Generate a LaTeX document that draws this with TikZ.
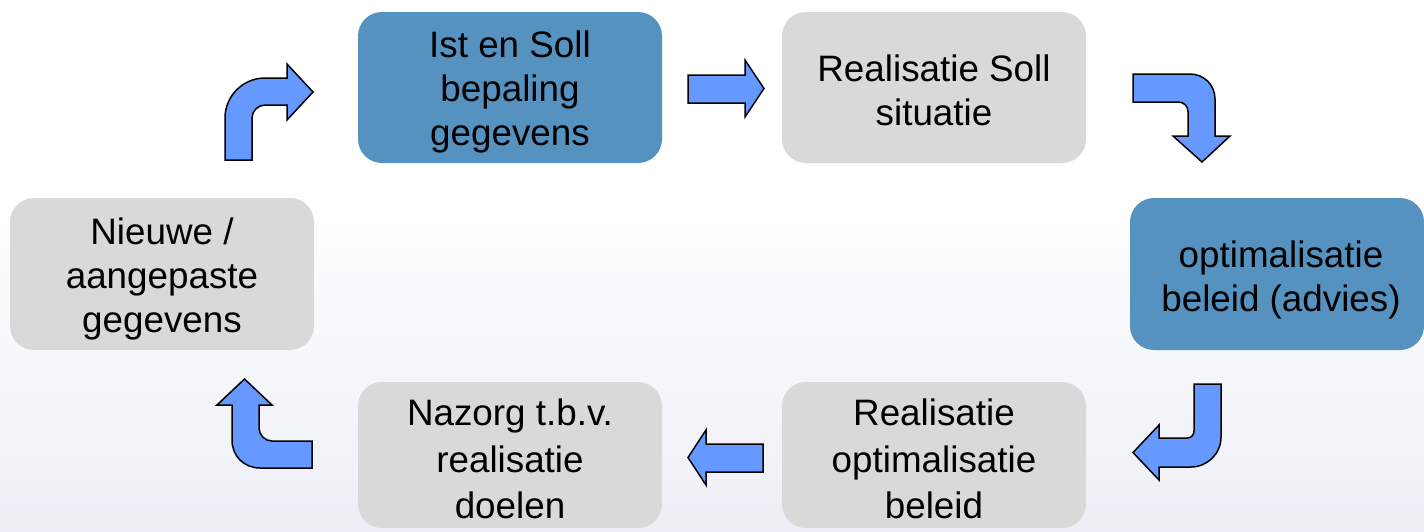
\documentclass[tikz,border=0pt]{standalone}
\usepackage{fontspec}
\setmainfont{Liberation Sans}
\definecolor{boxblue}{HTML}{5692C0}
\definecolor{boxgray}{HTML}{D9D9D9}
\definecolor{arrblue}{HTML}{6699FF}
\definecolor{bgbot}{HTML}{EDEFF6}
\tikzset{
  card/.style={rounded corners=24pt, minimum width=304pt, minimum height=151pt, inner sep=0pt},
  bluecard/.style={card, fill=boxblue},
  graycard/.style={card, fill=boxgray},
  cardtext/.style={inner sep=0pt, align=center, font=\fontsize{36.8}{44}\selectfont, text=black},
  blockarrow/.style={fill=arrblue, draw=black, line width=1.5pt, line join=miter}
}
\begin{document}
\begin{tikzpicture}[x=1pt,y=-1pt]
\useasboundingbox (0,0) rectangle (1424,531);
\fill[white] (0,0) rectangle (1424,200);
\shade[top color=white, bottom color=bgbot] (0,199.5) rectangle (1424,531);

\node[bluecard] (ist) at (510,87.5) {};
\node[cardtext] (istt) at ([yshift=-4pt]ist.center) {Ist en Soll\\bepaling\\gegevens};
\node[graycard] (soll) at (934,87.5) {};
\node[cardtext] (sollt) at ([yshift=-3pt]soll.center) {Realisatie Soll\\situatie};
\node[bluecard, minimum width=294pt, minimum height=152pt] (opt) at (1277,274) {};
\node[cardtext] (optt) at ([xshift=4pt,yshift=-6pt]opt.center) {optimalisatie\\beleid (advies)};
\node[graycard, minimum height=146pt] (real) at (934,455) {};
\node[cardtext, font=\fontsize{36.8}{46.5}\selectfont] (realt) at ([yshift=-4pt]real.center) {Realisatie\\optimalisatie\\beleid};
\node[graycard, minimum height=146pt] (nazorg) at (510,455) {};
\node[cardtext, font=\fontsize{36.8}{46.5}\selectfont] (nazorgt) at ([yshift=-4pt]nazorg.center) {Nazorg t.b.v.\\realisatie\\doelen};
\node[graycard, minimum height=152pt] (nieuw) at (162,274) {};
\node[cardtext] (nieuwt) at ([yshift=-5pt]nieuw.center) {Nieuwe /\\aangepaste\\gegevens};

% ist -> soll
\draw[blockarrow] (688,75) -- (745,75) -- (745,60) -- (764,88.5) -- (745,117) -- (745,103) -- (688,103) -- cycle;
% soll -> opt
\draw[blockarrow] (1133,74) -- (1190,74) .. controls (1204,74) and (1215,85) .. (1215,99)
  -- (1215,136) -- (1230,136) -- (1202,162) -- (1173,136) -- (1188,136) -- (1188,112)
  .. controls (1188,106) and (1184,102) .. (1178,102) -- (1133,102) -- cycle;
% opt -> real
\draw[blockarrow] (1194,384) -- (1221,384) -- (1221,437) .. controls (1221,454) and (1207,467) .. (1191,467)
  -- (1159,467) -- (1159,480) -- (1133,452.5) -- (1159,425) -- (1159,438) -- (1187,438)
  .. controls (1191,438) and (1194,435) .. (1194,431) -- cycle;
% real -> nazorg
\draw[blockarrow] (763,444) -- (706,444) -- (706,430) -- (688,457.5) -- (706,485) -- (706,472) -- (763,472) -- cycle;
% nazorg -> nieuw
\draw[blockarrow] (312,441) -- (312,468) -- (260,468) .. controls (244,468) and (232,456) .. (232,440)
  -- (232,405) -- (217,405) -- (244.5,379) -- (272,405) -- (259,405) -- (259,428)
  .. controls (259,435) and (265,441) .. (272,441) -- cycle;
% nieuw -> ist
\draw[blockarrow] (225,160) -- (225,118) .. controls (225,96) and (243,78) .. (265,78)
  -- (287,78) -- (287,64) -- (313,92) -- (287,120) -- (287,105) -- (265,105)
  .. controls (258,105) and (252,111) .. (252,118) -- (252,160) -- cycle;
\end{tikzpicture}
\end{document}
